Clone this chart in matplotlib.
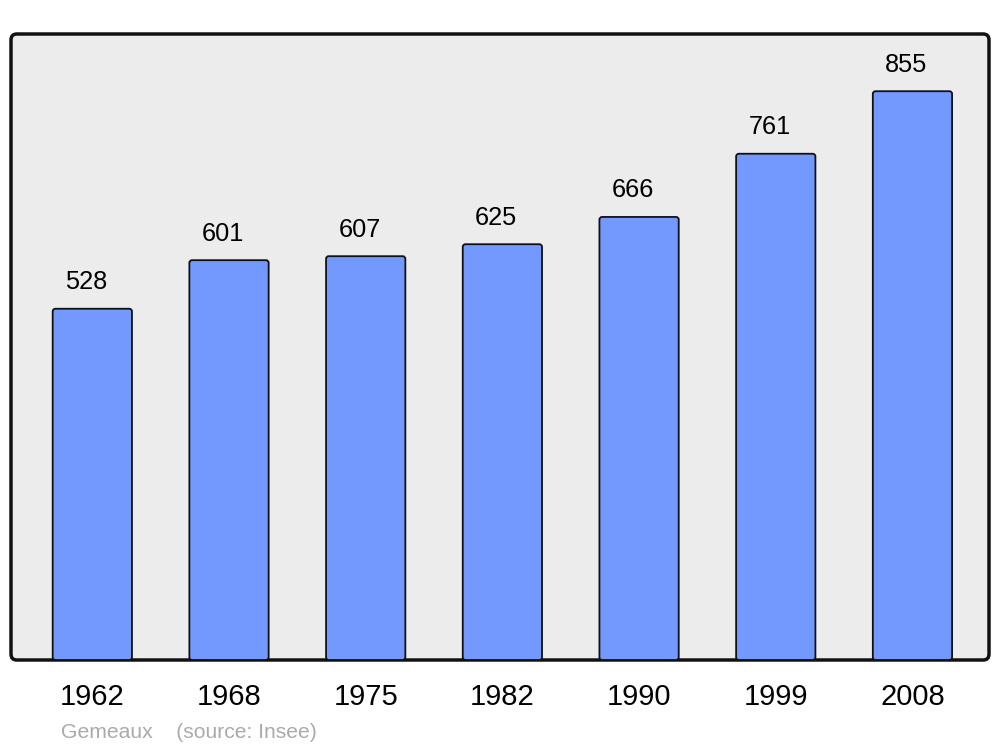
import matplotlib.pyplot as plt
from matplotlib.patches import FancyBboxPatch

years = ['1962', '1968', '1975', '1982', '1990', '1999', '2008']
population = [528, 601, 607, 625, 666, 761, 855]

plt.rcParams['font.family'] = ['Liberation Sans', 'DejaVu Sans']

fig = plt.figure(figsize=(10, 7.47), dpi=100)
ax = fig.add_axes([0.011, 87 / 747, 0.978, 626 / 747])
ax.set_facecolor('none')
for s in ax.spines.values():
    s.set_visible(False)

# rounded frame
frame = FancyBboxPatch((0, 0), 1, 1, boxstyle='round,pad=0,rounding_size=0.006',
                       transform=ax.transAxes, facecolor='#ececec', edgecolor='#111111',
                       linewidth=2.5, mutation_aspect=978 / 626, zorder=0, clip_on=False)
ax.add_patch(frame)

x = range(len(years))
bars = ax.bar(x, population, width=0.58, color='none', edgecolor='none')
ax.set_xlim(-0.595, 6.56)
ax.set_ylim(0, 941)

# replace plain rectangles by slightly rounded ones
for b in bars:
    rb = FancyBboxPatch((b.get_x(), 0), b.get_width(), b.get_height(),
                        boxstyle='round,pad=0,rounding_size=0.02',
                        mutation_aspect=205, facecolor='#7399ff',
                        edgecolor='#111111', linewidth=1.3, zorder=2)
    ax.add_patch(rb)

for xi, v in zip(x, population):
    ax.annotate(str(v), (xi, v), xytext=(-4.5, 14), textcoords='offset points',
                ha='center', va='baseline', fontsize=18.3)

ax.set_xticks(list(x))
ax.set_xticklabels(years, fontsize=21)
ax.tick_params(axis='x', length=0, pad=16.5)
ax.set_yticks([])

fig.text(0.061, 0.012, 'Gemeaux    (source: Insee)', fontsize=15.2, color='#aaaaaa',
         ha='left', va='baseline')

fig.savefig('out.png', dpi=100)
